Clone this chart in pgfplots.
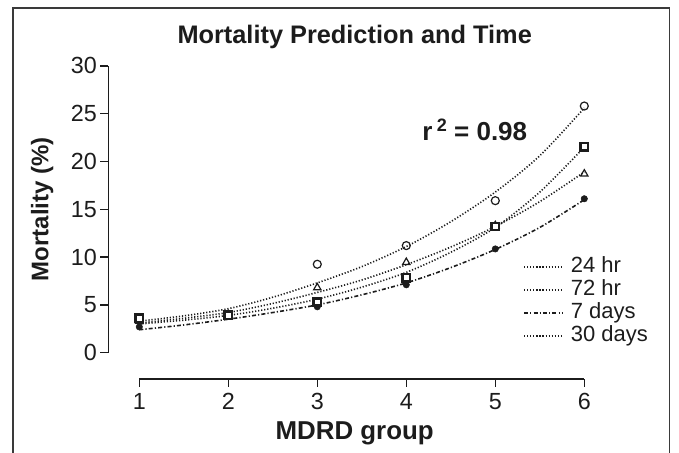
\documentclass[border=0pt]{standalone}
\usepackage{fontspec}
\setmainfont{Liberation Sans}
\usepackage{pgfplots}
\usepackage{pgfplotstable}
\pgfplotsset{compat=1.18}
\definecolor{ink}{HTML}{1C1C1C}
\definecolor{framegray}{HTML}{3A3A3A}

% fitted curves
\pgfplotstableread{
x    hA    hB    hC    hD
1    3.3   3.1   3.0   2.4
1.5  3.85  3.6   3.4   2.9
2    4.6   4.2   3.9   3.5
2.5  5.8   5.15  4.65  4.2
3    7.3   6.3   5.6   5.0
3.5  9.0   7.6   6.85  6.05
4    11.1  9.2   8.4   7.3
4.5  13.7  11.05 10.5  8.9
5    16.8  13.2  13.1  10.8
5.5  20.6  15.8  16.8  13.1
6    25.6  18.9  21.5  16.0
}\fits

% observed points
\pgfplotstableread{
x  circ  tri   sq    dot
1  3.4   3.3   3.6   2.7
2  4.0   4.0   3.9   3.8
3  9.25  6.8   5.3   4.8
4  11.2  9.45  7.85  7.1
5  15.9  13.3  13.2  10.85
6  25.8  18.7  21.55 16.1
}\pts

\tikzset{
  dotline/.style={ink, line width=1.2pt, dash pattern=on 0.9pt off 1.4pt},
  dashdot/.style={ink, line width=1.2pt, dash pattern=on 3pt off 1.6pt on 0.9pt off 1.6pt},
}

\begin{document}
\begin{tikzpicture}
\begin{axis}[
  x=66.75pt, y=7.17pt,
  xmin=0.652, xmax=6.7,
  ymin=-2.75, ymax=30,
  enlargelimits=false,
  clip=false,
  axis x line*=bottom,
  axis y line*=left,
  axis line style={draw=none},
  xtick={1,2,3,4,5,6},
  ytick={0,5,10,15,20,25,30},
  tick align=outside,
  major tick length=6pt,
  tick style={ink, line width=1.05pt},
  /pgf/number format/assume math mode=true,
  tick label style={font=\fontsize{17.5}{19}\selectfont, text=ink},
  xticklabel style={yshift=-1pt},
  yticklabel style={xshift=1pt},
  legend cell align=left,
  legend image code/.code={\draw[#1] (0pt,0pt) -- (28.5pt,0pt);},
  legend style={
    at={(axis cs:5.311,10.05)}, anchor=north west,
    draw=none, fill=none, inner sep=0pt, row sep=2.25pt,
    font=\fontsize{16.5}{18}\selectfont, text=ink,
    nodes={inner sep=0pt, text height=12pt, text depth=3pt},
    /tikz/every odd column/.append style={column sep=6pt},
  },
]
% axis lines in the offset style of the original
\draw[ink, line width=1.05pt] (axis cs:0.652,0) -- (axis cs:0.652,30);
\draw[ink, line width=1.05pt] (axis cs:1,-2.75) -- (axis cs:6,-2.75);

\addplot[dotline, smooth, no marks] table[x=x, y=hB] {\fits};
\addlegendentry{24 hr}
\addplot[dotline, smooth, no marks] table[x=x, y=hC] {\fits};
\addlegendentry{72 hr}
\addplot[dashdot, smooth, no marks] table[x=x, y=hD] {\fits};
\addlegendentry{7 days}
\addplot[dotline, smooth, no marks] table[x=x, y=hA] {\fits};
\addlegendentry{30 days}

\addplot[only marks, mark=o, mark size=3pt, mark options={ink, line width=0.9pt}, forget plot] table[x=x, y=circ] {\pts};
\addplot[only marks, mark=triangle, mark size=3.2pt, mark options={ink, line width=0.9pt, fill=white}, forget plot] table[x=x, y=tri] {\pts};
\addplot[only marks, mark=*, mark size=2.4pt, mark options={ink, fill=ink}, forget plot] table[x=x, y=dot] {\pts};
\addplot[only marks, mark=square*, mark size=2.7pt, mark options={ink, line width=2pt, fill=white}, forget plot] table[x=x, y=sq] {\pts};

% texts
\node[font=\bfseries\fontsize{19}{20}\selectfont, text=ink, anchor=base] at (axis cs:3.42,32.3) {Mortality Prediction and Time};
\node[font=\bfseries\fontsize{19.5}{21}\selectfont, text=ink] at (axis cs:4.77,23.3) {r\,\raisebox{0.6ex}{\fontsize{13.5}{14}\selectfont 2} = 0.98};
\node[font=\bfseries\fontsize{18}{20}\selectfont, text=ink, rotate=90] at (axis cs:-0.09,15.0) {Mortality (\%)};
\node[font=\bfseries\fontsize{19.4}{21}\selectfont, text=ink] at (axis cs:3.42,-8.4) {MDRD group};

% outer frame (open at the bottom, as cut in the original)
\draw[framegray, line width=1.1pt] (axis cs:-0.419,-10.49) -- (axis cs:-0.419,36.06) -- (axis cs:6.957,36.06) -- (axis cs:6.957,-10.49);
\coordinate (bl) at (axis cs:-0.565,-10.49);
\coordinate (tr) at (axis cs:7.064,36.89);
\end{axis}
\pgfresetboundingbox
\path (bl) rectangle (tr);
\end{tikzpicture}
\end{document}
